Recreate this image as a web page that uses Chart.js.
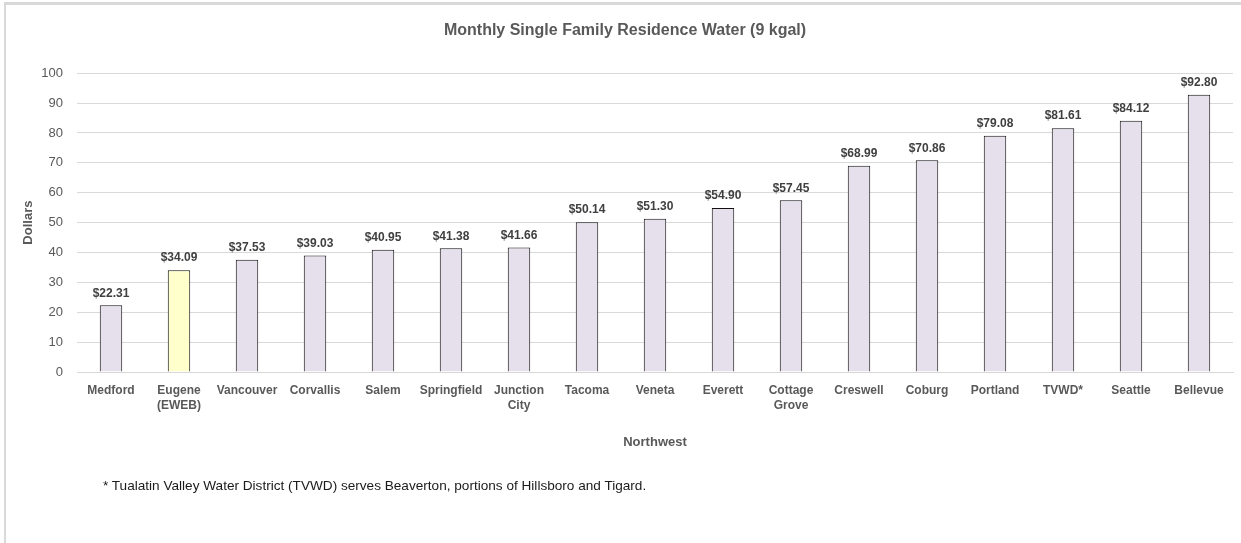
<!DOCTYPE html>
<html>
<head>
<meta charset="utf-8">
<script src="https://cdn.jsdelivr.net/npm/chart.js@4/dist/chart.umd.min.js"></script>
<style>
  html, body { margin: 0; padding: 0; background: #fff; }
  #wrap { position: relative; width: 1241px; height: 543px; }
  #frameTop { position: absolute; left: 4px; right: 0; top: 2px; height: 3px; background: #d9d9d9; }
  #frameLeft { position: absolute; left: 4px; top: 2px; bottom: 0; width: 2px; background: #d9d9d9; }
  #note {
    position: absolute; left: 103px; top: 478px;
    font: 13.6px 'Liberation Sans', Arial, sans-serif; color: #1a1a1a; white-space: nowrap;
  }
</style>
</head>
<body>
<div id="wrap">
  <canvas id="chart"></canvas>
  <div id="frameTop"></div>
  <div id="frameLeft"></div>
  <div id="note">* Tualatin Valley Water District (TVWD) serves Beaverton, portions of Hillsboro and Tigard.</div>
</div>
<script>
  var cities = [
    'Medford', ['Eugene', '(EWEB)'], 'Vancouver', 'Corvallis', 'Salem', 'Springfield',
    ['Junction', 'City'], 'Tacoma', 'Veneta', 'Everett', ['Cottage', 'Grove'],
    'Creswell', 'Coburg', 'Portland', 'TVWD*', 'Seattle', 'Bellevue'
  ];
  var waterBill = [22.31, 34.09, 37.53, 39.03, 40.95, 41.38, 41.66, 50.14, 51.30,
    54.90, 57.45, 68.99, 70.86, 79.08, 81.61, 84.12, 92.80];
  var highlightCity = 1; // Eugene (EWEB)

  var FONT = "'Liberation Sans', Arial, sans-serif";
  var barColors = waterBill.map(function (v, i) {
    return i === highlightCity ? '#ffffcc' : '#e6e0ec';
  });

  // draw the dollar value above each bar
  var valueLabels = {
    id: 'valueLabels',
    afterDatasetsDraw: function (chart) {
      var c = chart.ctx;
      var meta = chart.getDatasetMeta(0);
      c.save();
      c.font = 'bold 12px ' + FONT;
      c.fillStyle = '#404040';
      c.textAlign = 'center';
      c.textBaseline = 'bottom';
      meta.data.forEach(function (bar, i) {
        c.fillText('$' + waterBill[i].toFixed(2), bar.x, bar.y - 6);
      });
      c.restore();
    }
  };

  new Chart(document.getElementById('chart'), {
    type: 'bar',
    data: {
      labels: cities,
      datasets: [{
        data: waterBill,
        backgroundColor: barColors,
        borderColor: '#111',
        borderWidth: 1,
        categoryPercentage: 1,
        barPercentage: 0.33
      }]
    },
    options: {
      responsive: true,
      maintainAspectRatio: false,
      animation: false,
      layout: { padding: { left: 17, right: 8, top: 0, bottom: 93 } },
      plugins: {
        legend: { display: false },
        tooltip: { enabled: false },
        title: {
          display: true,
          text: 'Monthly Single Family Residence Water (9 kgal)',
          color: '#595959',
          font: { family: FONT, size: 16, weight: 'bold', lineHeight: 1.2 },
          padding: { top: 21, bottom: 33 }
        }
      },
      scales: {
        x: {
          grid: { display: false, drawTicks: false },
          border: { display: true, color: '#d9d9d9', width: 1 },
          ticks: {
            color: '#595959',
            font: { family: FONT, size: 12, weight: 'bold', lineHeight: 1.25 },
            padding: 11,
            maxRotation: 0,
            autoSkip: false
          },
          title: {
            display: true,
            text: 'Northwest',
            color: '#595959',
            font: { family: FONT, size: 13, weight: 'bold', lineHeight: 1.2 },
            padding: 0
          },
          afterFit: function (scale) { scale.height = 78; }
        },
        y: {
          min: 0,
          max: 100,
          grid: { color: '#d9d9d9', drawTicks: false },
          border: { display: false },
          ticks: {
            stepSize: 10,
            color: '#595959',
            font: { family: FONT, size: 13 },
            padding: 14
          },
          title: {
            display: true,
            text: 'Dollars',
            color: '#595959',
            font: { family: FONT, size: 13, weight: 'bold', lineHeight: 1.2 },
            padding: { top: 4, bottom: 4 }
          },
          afterFit: function (scale) { scale.width = 60; }
        }
      }
    },
    plugins: [valueLabels]
  });
</script>
</body>
</html>
